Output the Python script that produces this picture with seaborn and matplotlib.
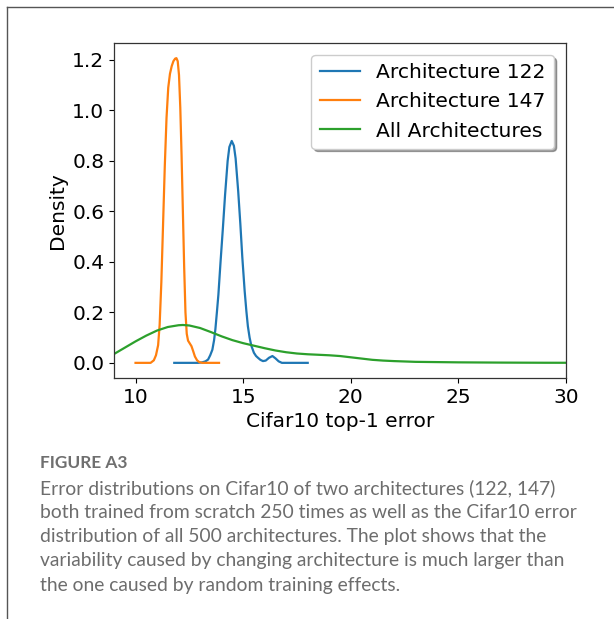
import matplotlib
matplotlib.use("Agg")
import matplotlib.pyplot as plt
from matplotlib.lines import Line2D
import numpy as np
import pandas as pd
import seaborn as sns

# Kernel density estimates of Cifar10 top-1 error
arch147_x = [10.00, 10.70, 10.85, 10.95, 11.05, 11.12, 11.20, 11.28, 11.36, 11.44,
             11.52, 11.60, 11.68, 11.76, 11.84, 11.90, 11.96, 12.02, 12.08, 12.14,
             12.20, 12.26, 12.32, 12.38, 12.44, 12.52, 12.60, 12.68, 12.76, 12.86,
             12.96, 13.10, 13.88]
arch147_d = [0.0, 0.0, 0.01, 0.03, 0.07, 0.15, 0.32, 0.55, 0.78, 0.97,
             1.09, 1.145, 1.175, 1.195, 1.205, 1.207, 1.195, 1.14, 1.01, 0.82,
             0.60, 0.38, 0.20, 0.115, 0.088, 0.077, 0.066, 0.046, 0.025, 0.01,
             0.003, 0.0, 0.0]

arch122_x = [11.80, 12.90, 13.10, 13.25, 13.37, 13.47, 13.57, 13.65, 13.71, 13.78,
             13.85, 13.95, 14.06, 14.16, 14.28, 14.36, 14.47, 14.57, 14.65, 14.77,
             14.87, 14.96, 15.07, 15.15, 15.22, 15.30, 15.38, 15.50, 15.60, 15.69,
             15.80, 15.92, 16.05, 16.20, 16.36, 16.50, 16.65, 16.80, 18.00]
arch122_d = [0.0, 0.0, 0.002, 0.006, 0.013, 0.03, 0.052, 0.09, 0.133, 0.20,
             0.27, 0.40, 0.535, 0.665, 0.80, 0.855, 0.879, 0.86, 0.81, 0.68,
             0.55, 0.42, 0.285, 0.205, 0.145, 0.10, 0.068, 0.04, 0.027, 0.02,
             0.012, 0.007, 0.009, 0.02, 0.027, 0.018, 0.006, 0.0, 0.0]

all_x = [8.9, 9.0, 9.5, 10.0, 10.5, 11.0, 11.5, 12.0, 12.2, 12.5,
         13.0, 13.5, 14.0, 14.5, 15.0, 15.5, 16.0, 16.5, 17.0, 17.5,
         18.0, 18.5, 19.0, 19.5, 20.0, 20.5, 21.0, 21.5, 22.0, 23.0,
         24.0, 25.0, 26.0, 27.0, 28.0, 29.0, 30.0, 30.5]
all_d = [0.033, 0.035, 0.06, 0.085, 0.108, 0.128, 0.142, 0.149, 0.150, 0.148,
         0.138, 0.122, 0.105, 0.09, 0.078, 0.068, 0.058, 0.049, 0.042, 0.037,
         0.034, 0.032, 0.030, 0.027, 0.022, 0.017, 0.012, 0.009, 0.007, 0.004,
         0.003, 0.002, 0.0015, 0.001, 0.0007, 0.0004, 0.0003, 0.0002]

series_names = ["Architecture 122", "Architecture 147", "All Architectures"]
x_ticks = [10, 15, 20, 25, 30]
y_ticks = [0.0, 0.2, 0.4, 0.6, 0.8, 1.0, 1.2]

caption_title = "FIGURE A3"
caption_lines = [
    "Error distributions on Cifar10 of two architectures (122, 147)",
    "both trained from scratch 250 times as well as the Cifar10 error",
    "distribution of all 500 architectures. The plot shows that the",
    "variability caused by changing architecture is much larger than",
    "the one caused by random training effects.",
]

frames = []
for name, xs, ds in zip(series_names,
                        [arch122_x, arch147_x, all_x],
                        [arch122_d, arch147_d, all_d]):
    frames.append(pd.DataFrame({"error": xs, "density": ds, "series": name}))
df = pd.concat(frames, ignore_index=True)

fig = plt.figure(figsize=(6.14, 6.19), dpi=100)
ax = fig.add_axes([114 / 614, 1 - 378 / 619, (566 - 114) / 614, (378 - 43) / 619])

palette = {"Architecture 122": "#1f77b4",
           "Architecture 147": "#ff7f0e",
           "All Architectures": "#2ca02c"}
sns.lineplot(data=df, x="error", y="density", hue="series", hue_order=series_names,
             palette=palette, sort=False, estimator=None, linewidth=1.6, ax=ax)

ax.set_xlim(9, 30)
ax.set_ylim(-0.06, 1.267)
ax.set_xticks(x_ticks)
ax.set_yticks(y_ticks)
ax.set_yticklabels([f"{v:.1f}" for v in y_ticks])
ax.tick_params(labelsize=14.5)
ax.set_xlabel("Cifar10 top-1 error", fontsize=14.5)
ax.set_ylabel("Density", fontsize=14.5)
for s in ax.spines.values():
    s.set_color("#333333")
    s.set_linewidth(0.9)

handles, labels = ax.get_legend_handles_labels()
ax.legend(handles, labels, loc="upper right", fontsize=14.6, shadow=True,
          fancybox=True, framealpha=1.0, handlelength=2.0,
          borderaxespad=0.6)

# Page frame lines
fig.add_artist(Line2D([7 / 614, 1.0], [1 - 7 / 619, 1 - 7 / 619],
                      transform=fig.transFigure, color="#555555", linewidth=1.0))
fig.add_artist(Line2D([7 / 614, 7 / 614], [0.0, 1 - 7 / 619],
                      transform=fig.transFigure, color="#555555", linewidth=1.0))

fig.text(40 / 614, 1 - 463 / 619, caption_title, fontsize=12.4, family="Lato",
         fontweight="bold", color="#6f6f6f", va="center", ha="left")
for i, line in enumerate(caption_lines):
    fig.text(40 / 614, 1 - (488 + i * 24.3) / 619, line, fontsize=13.9,
             family="Lato", color="#6d6d6d", va="center", ha="left")

fig.savefig("out.png", dpi=100)
